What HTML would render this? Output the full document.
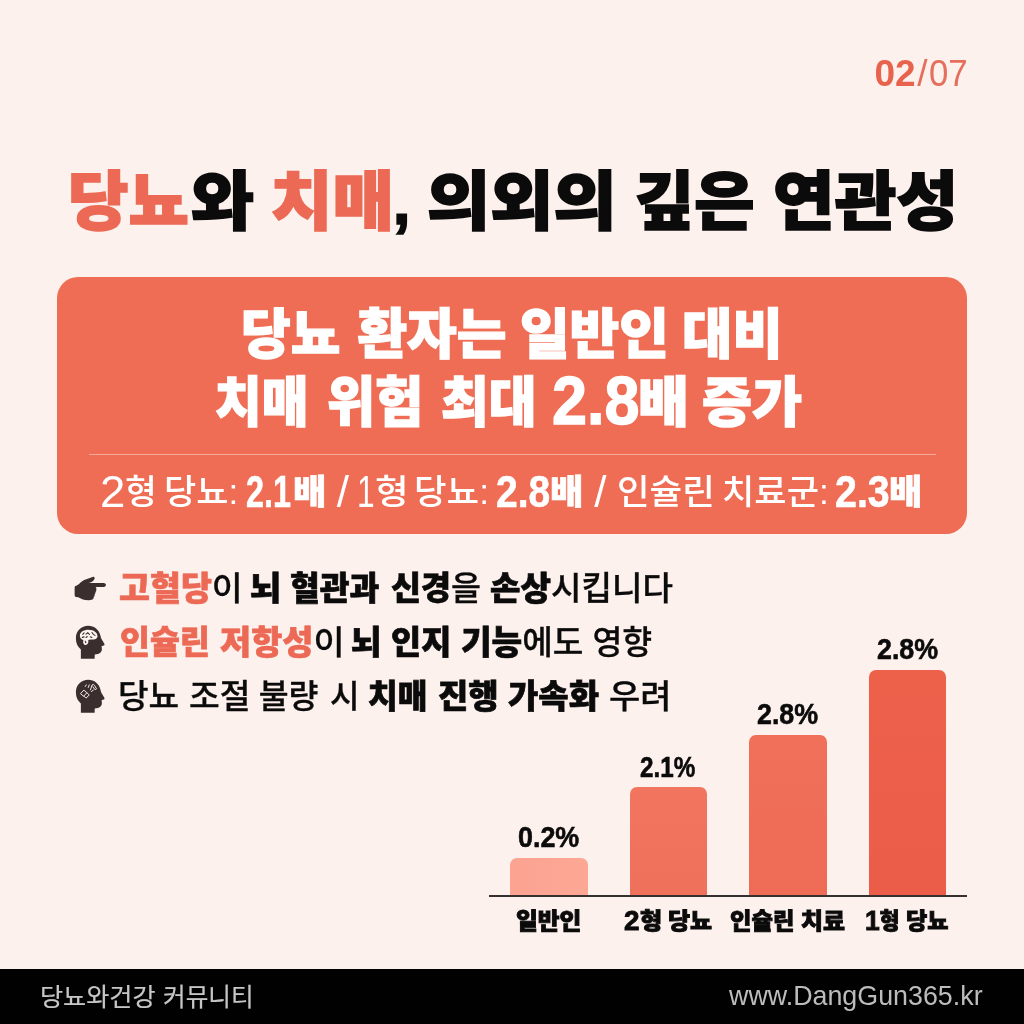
<!DOCTYPE html>
<html lang="ko">
<head>
<meta charset="utf-8">
<title>당뇨와 치매, 의외의 깊은 연관성</title>
<style>
*{box-sizing:border-box;margin:0;padding:0}
html,body{width:1024px;height:1024px;overflow:hidden}
body{background:#FDF1ED;font-family:"Liberation Sans","Noto Sans CJK KR",sans-serif;color:#0b0b0b;position:relative}
.ln{position:absolute;left:0;width:1024px;height:1em;line-height:1;white-space:nowrap}
.w{display:inline-block;transform-origin:0 0;white-space:nowrap;vertical-align:baseline}
.d{line-height:0;position:relative}
.ic{position:absolute;display:block}
ul{list-style:none}
h1,h2,p{font-weight:inherit;font-size:inherit}
#box{position:absolute;left:57px;top:277px;width:910px;height:257px;border-radius:21px;background:#EF6D55}
#div{position:absolute;left:89px;top:453.5px;width:847px;height:1px;background:rgba(255,255,255,.42)}
.bar{position:absolute;border-radius:7px 7px 0 0}
#axis{position:absolute;left:489px;top:895.2px;width:478px;height:1.7px;background:#353130}
#foot{position:absolute;left:0;top:968.8px;width:1024px;height:55.2px;background:#020101}
#pn{top:55.0px;font-size:37px;font-weight:400;color:#E56F5C;}
#title{top:169.6px;font-size:64.0px;font-weight:900;color:#0b0b0b;-webkit-text-stroke:1.7px currentColor;}
#bl1{top:307.7px;font-size:54px;font-weight:900;color:#fff;-webkit-text-stroke:1.4px currentColor;}
#bl2{top:375.9px;font-size:54px;font-weight:900;color:#fff;-webkit-text-stroke:1.4px currentColor;}
#bl2 .d{font-size:1.255em;top:2.6px}
#sub{top:475.4px;font-size:34.5px;font-weight:500;color:#fff;}
#sub .d{font-size:1.275em;top:2.5px}
#sub b{-webkit-text-stroke:0.6px currentColor}
#bu1{top:573.4px;font-size:32.5px;font-weight:500;color:#0b0b0b;-webkit-text-stroke:0.3px currentColor;}
#bu1 b{-webkit-text-stroke:0.7px currentColor}
#bu2{top:627.1px;font-size:32.5px;font-weight:500;color:#0b0b0b;-webkit-text-stroke:0.3px currentColor;}
#bu2 b{-webkit-text-stroke:0.7px currentColor}
#bu3{top:681.2px;font-size:32.5px;font-weight:500;color:#0b0b0b;-webkit-text-stroke:0.3px currentColor;}
#bu3 b{-webkit-text-stroke:0.7px currentColor}
#v1{top:822.2px;font-size:30px;font-weight:700;color:#0b0b0b;-webkit-text-stroke:0.6px currentColor;}
#v2{top:751.6px;font-size:30px;font-weight:700;color:#0b0b0b;-webkit-text-stroke:0.6px currentColor;}
#v3{top:699.4px;font-size:30px;font-weight:700;color:#0b0b0b;-webkit-text-stroke:0.6px currentColor;}
#v4{top:633.9px;font-size:30px;font-weight:700;color:#0b0b0b;-webkit-text-stroke:0.6px currentColor;}
#l1{top:910.8px;font-size:22.5px;font-weight:900;color:#0b0b0b;-webkit-text-stroke:0.9px currentColor;}
#l2{top:910.8px;font-size:22.5px;font-weight:900;color:#0b0b0b;-webkit-text-stroke:0.9px currentColor;}
#l2 .d{font-size:1.23em;top:1.2px}
#l3{top:910.8px;font-size:22.5px;font-weight:900;color:#0b0b0b;-webkit-text-stroke:0.9px currentColor;}
#l4{top:910.8px;font-size:22.5px;font-weight:900;color:#0b0b0b;-webkit-text-stroke:0.9px currentColor;}
#l4 .d{font-size:1.23em;top:1.2px}
#f1{top:984.6px;font-size:25.5px;font-weight:400;color:#c6c6c6;-webkit-text-stroke:0.2px currentColor;}
#f2{top:982.3px;font-size:27.5px;font-weight:400;color:#bcbcbc;}
</style>
</head>
<body>
<header>
<p class="ln" id="pn"><span class="w" style="margin-left:874.5px"><b style="font-weight:700;color:#E8634E;">02</b></span><span class="w" style="margin-left:1.64px">/</span><span class="w" style="margin-left:1.82px;transform:scaleX(0.94)">07</span></p>
<h1 class="ln" id="title"><span class="w" style="margin-left:68.1px;transform:scaleX(1.026)"><span style="color:#EC6A55;">당뇨</span></span><span class="w" style="margin-left:5.03px;transform:scaleX(1.07)">와</span> <span class="w" style="margin-left:3.03px;transform:scaleX(1.044)"><span style="color:#EC6A55;">치매</span></span><span class="w" style="margin-left:4.34px">,</span> <span class="w" style="margin-left:-0.97px;transform:scaleX(1.074)">의외의</span> <span class="w" style="margin-left:12.18px;transform:scaleX(1.023)">깊은</span> <span class="w" style="margin-left:3.36px;transform:scaleX(1.048)">연관성</span></h1>
</header>
<section id="summary">
<div id="box"></div>
<h2 class="ln" id="bl1"><span class="w" style="margin-left:241.1px">당뇨</span> <span class="w" style="margin-left:1.91px">환자는</span> <span class="w" style="margin-left:-1.56px">일반인</span> <span class="w" style="margin-left:-2.07px;transform:scaleX(1.014)">대비</span></h2>
<h2 class="ln" id="bl2"><span class="w" style="margin-left:214.5px;transform:scaleX(0.94)">치매</span> <span class="w" style="margin-left:-2.39px;transform:scaleX(0.971)">위험</span> <span class="w" style="margin-left:-0.29px;transform:scaleX(0.961)">최대</span> <span class="w" style="margin-left:-3.49px;transform:scaleX(0.929)"><span class="d">2.8</span></span><span class="w" style="margin-left:-7.59px;transform:scaleX(1.024)">배</span> <span class="w" style="margin-left:-1px;transform:scaleX(1.007)">증가</span></h2>
<div id="div"></div>
<p class="ln" id="sub"><span class="w" style="margin-left:100.2px;transform:scaleX(1.037)"><span class="d">2</span></span><span class="w" style="margin-left:-0.07px;transform:scaleX(1.004)">형</span> <span class="w" style="margin-left:-1.74px;transform:scaleX(1.017)">당뇨:</span> <span class="w" style="margin-left:-1.27px;transform:scaleX(0.736)"><b style="font-weight:900;"><span class="d">2.1</span></b></span><span class="w" style="margin-left:-14.13px;transform:scaleX(1.054)"><b style="font-weight:900;">배</b></span> <span class="w" style="margin-left:2.76px"><span class="d">/</span></span> <span class="w" style="margin-left:-1.62px;transform:scaleX(0.72)"><span class="d">1</span></span><span class="w" style="margin-left:-6.86px;transform:scaleX(1.061)">형</span> <span class="w" style="margin-left:-1.45px;transform:scaleX(1.027)">당뇨:</span> <span class="w" style="margin-left:-0.67px;transform:scaleX(0.887)"><b style="font-weight:900;"><span class="d">2.8</span></b></span><span class="w" style="margin-left:-7.23px;transform:scaleX(1.055)"><b style="font-weight:900;">배</b></span> <span class="w" style="margin-left:2.56px"><span class="d">/</span></span> <span class="w" style="margin-left:0.69px;transform:scaleX(1.027)">인슐린</span> <span class="w" style="margin-left:0.27px;transform:scaleX(1.019)">치료군:</span> <span class="w" style="margin-left:-1.31px;transform:scaleX(0.895)"><b style="font-weight:900;"><span class="d">2.3</span></b></span><span class="w" style="margin-left:-6.82px;transform:scaleX(1.05)"><b style="font-weight:900;">배</b></span></p>
</section>
<ul id="points">
<li><svg class="ic" id="ic1" style="left:64px;top:564px" width="64" height="48" viewBox="0 0 1024 768" aria-hidden="true">
<path fill="#3a2f2e" d="M170,374 Q170,348 196,346 L236,322 Q268,286 322,256 L436,214 Q466,196 484,208 Q500,224 480,254 L448,284 Q424,298 392,302 L640,304 Q672,308 672,336 Q670,364 640,366 L506,368 Q526,386 516,410 Q522,434 504,448 Q508,472 490,486 Q494,514 476,526 Q480,562 446,572 L400,578 Q330,578 290,562 Q250,538 226,532 L194,526 Q170,522 170,498 Z"/>
</svg>
<p class="ln" id="bu1"><span class="w" style="margin-left:118.9px;transform:scaleX(1.035)"><b style="font-weight:900;color:#EC6A55;">고혈당</b>이</span> <span class="w" style="margin-left:2.56px;transform:scaleX(1.043)"><b style="font-weight:900;">뇌</b></span> <span class="w" style="margin-left:1.16px;transform:scaleX(0.996)"><b style="font-weight:900;">혈관과</b></span> <span class="w" style="margin-left:2.47px;transform:scaleX(1.004)"><b style="font-weight:900;">신경</b>을</span> <span class="w" style="margin-left:0.05px;transform:scaleX(1.02)"><b style="font-weight:900;">손상</b>시킵니다</span></p></li>
<li><svg class="ic" id="ic2" style="left:64px;top:618px" width="64" height="48" viewBox="0 0 1024 768" aria-hidden="true">
<path fill="#3a2f2e" d="M386,124 C486,124 560,186 584,284 Q588,312 600,334 L648,416 Q654,440 626,444 L602,448 L606,504 Q602,560 544,574 L492,582 L490,650 L270,650 L270,502 Q190,432 190,322 C190,204 280,124 386,124 Z"/>
<path fill="#fdf3ef" d="M254,282 C254,222 312,186 392,186 C474,186 540,230 536,298 C532,338 474,350 424,344 L388,352 C398,398 378,430 346,430 C312,430 300,392 310,350 C276,340 254,320 254,282 Z"/>
<path fill="none" stroke="#3a2f2e" stroke-width="17" stroke-linecap="round" d="M300,262 L322,238 M352,258 L380,236 L408,262 M448,232 L470,262 L496,278 M292,310 L322,302 M352,312 L372,296 M420,300 L446,312 M340,372 L350,396"/>
</svg>
<p class="ln" id="bu2"><span class="w" style="margin-left:120.1px"><b style="font-weight:900;color:#EC6A55;">인슐린</b></span> <span class="w" style="margin-left:1.57px;transform:scaleX(1.042)"><b style="font-weight:900;color:#EC6A55;">저항성</b>이</span> <span class="w" style="margin-left:1.85px;transform:scaleX(1.015)"><b style="font-weight:900;">뇌</b></span> <span class="w" style="margin-left:1.47px;transform:scaleX(1.008)"><b style="font-weight:900;">인지</b></span> <span class="w" style="margin-left:1.25px;transform:scaleX(1.023)"><b style="font-weight:900;">기능</b>에도</span> <span class="w" style="margin-left:2.45px">영향</span></p></li>
<li><svg class="ic" id="ic3" style="left:64px;top:672px" width="64" height="48" viewBox="0 0 1024 768" aria-hidden="true">
<path fill="#3a2f2e" d="M386,124 C486,124 560,186 584,284 Q588,312 600,334 L648,416 Q654,440 626,444 L602,448 L606,504 Q602,560 544,574 L492,582 L490,650 L270,650 L270,502 Q190,432 190,322 C190,204 280,124 386,124 Z"/>
<path fill="none" stroke="#fdf3ef" stroke-width="15" stroke-linecap="round" stroke-linejoin="round" d="M268,342 L318,290 L366,332 L318,384 Z M318,384 L352,418 L404,368 L366,332 M340,232 L356,206 M388,248 L404,206 M424,286 L448,208 Q470,186 488,214 L520,268 Q512,290 490,276 L462,236 M438,312 L470,290"/>
</svg>
<p class="ln" id="bu3"><span class="w" style="margin-left:118px;transform:scaleX(1.024)">당뇨</span> <span class="w" style="margin-left:2.36px;transform:scaleX(1.028)">조절</span> <span class="w" style="margin-left:0.65px">불량</span> <span class="w" style="margin-left:2.36px;transform:scaleX(0.988)">시</span> <span class="w" style="margin-left:-1.24px;transform:scaleX(0.992)"><b style="font-weight:900;">치매</b></span> <span class="w" style="margin-left:1.16px;transform:scaleX(1.015)"><b style="font-weight:900;">진행</b></span> <span class="w" style="margin-left:2.05px;transform:scaleX(1.015)"><b style="font-weight:900;">가속화</b></span> <span class="w" style="margin-left:1.37px;transform:scaleX(1.045)">우려</span></p></li>
</ul>
<figure id="chart">
<div class="col"><div class="bar" style="left:510px;top:858px;width:78px;height:38px;background:linear-gradient(100deg,#FCA392,#FDA795)"></div><div class="ln" id="v1"><span class="w" style="margin-left:517.8px;transform:scaleX(0.896)">0.2%</span></div><div class="ln" id="l1"><span class="w" style="margin-left:516.3px;transform:scaleX(1.053)">일반인</span></div></div>
<div class="col"><div class="bar" style="left:630px;top:787px;width:77px;height:109px;background:linear-gradient(180deg,#F2755F,#EF705B)"></div><div class="ln" id="v2"><span class="w" style="margin-left:640.1px;transform:scaleX(0.809)">2.1%</span></div><div class="ln" id="l2"><span class="w" style="margin-left:624px;transform:scaleX(1.007)"><span class="d">2</span></span><span class="w" style="margin-left:0.21px;transform:scaleX(1.076)">형</span> <span class="w" style="margin-left:1.23px;transform:scaleX(1.065)">당뇨</span></div></div>
<div class="col"><div class="bar" style="left:749px;top:735px;width:77.5px;height:161px;background:linear-gradient(180deg,#F07059,#EE6B56)"></div><div class="ln" id="v3"><span class="w" style="margin-left:757.2px;transform:scaleX(0.894)">2.8%</span></div><div class="ln" id="l3"><span class="w" style="margin-left:729.9px;transform:scaleX(1.036)">인슐린</span> <span class="w" style="margin-left:3.23px;transform:scaleX(1.063)">치료</span></div></div>
<div class="col"><div class="bar" style="left:868.5px;top:670px;width:77.5px;height:226px;background:linear-gradient(180deg,#ED604A,#EB5D48)"></div><div class="ln" id="v4"><span class="w" style="margin-left:876.8px;transform:scaleX(0.894)">2.8%</span></div><div class="ln" id="l4"><span class="w" style="margin-left:864.8px;transform:scaleX(0.958)"><span class="d">1</span>형</span> <span class="w" style="margin-left:-1.26px;transform:scaleX(1.027)">당뇨</span></div></div>
<div id="axis"></div>
</figure>
<footer>
<div id="foot"></div>
<p class="ln" id="f1"><span class="w" style="margin-left:40.3px;transform:scaleX(0.985)">당뇨와건강</span> <span class="w" style="margin-left:-1.71px;transform:scaleX(0.965)">커뮤니티</span></p>
<p class="ln" id="f2"><span class="w" style="margin-left:728.9px;transform:scaleX(0.976)">www.DangGun365.kr</span></p>
</footer>
</body>
</html>
